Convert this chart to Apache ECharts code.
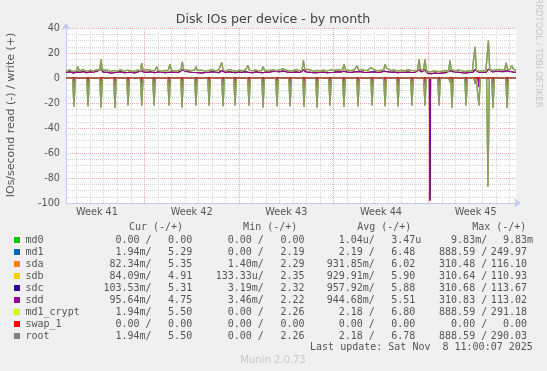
<!DOCTYPE html>
<html><head><meta charset="utf-8">
<script src="https://cdn.jsdelivr.net/npm/echarts@6/dist/echarts.min.js"></script>
<style>html,body{margin:0;padding:0;background:#f0f0f0}#c{width:547px;height:371px}</style>
</head><body><div id="c"></div>
<script>
// x values are days counted from Sunday Oct 5 2025 00:00
const xMin = 1.21, xMax = 34.48;
const weekLabels = ['Week 41','Week 42','Week 43','Week 44','Week 45'];
const weekLabelPos = [3.5, 10.5, 17.5, 24.5, 31.5];
const weekLines = [7, 14, 21, 28];
const dayLines = [2,3,4,5,6,8,9,10,11,12,13,15,16,17,18,19,20,22,23,24,25,26,27,29,30,31,32,33,34];

const names = ['md0','md1','sda','sdb','sdc','sdd','md1_crypt','swap_1','root'];
const colors = ['#00CC00','#0066B3','#FF8000','#FFCC00','#330099','#990099','#CCFF00','#FF0000','#808080'];

const curR = ['0.00 /','1.94m/','82.34m/','84.09m/','103.53m/','95.64m/','1.94m/','0.00 /','1.94m/'];
const curW = ['0.00','5.29','5.35','4.91','5.31','4.75','5.50','0.00','5.50'];
const minR = ['0.00 /','0.00 /','1.40m/','133.33u/','3.19m/','3.46m/','0.00 /','0.00 /','0.00 /'];
const minW = ['0.00','2.19','2.29','2.35','2.32','2.22','2.26','0.00','2.26'];
const avgR = ['1.04u/','2.19 /','931.85m/','929.91m/','957.92m/','944.68m/','2.18 /','0.00 /','2.18 /'];
const avgW = ['3.47u','6.48','6.02','5.90','5.88','5.51','6.80','0.00','6.78'];
const maxR = ['9.83m/','888.59 /','310.48 /','310.64 /','310.68 /','310.83 /','888.59 /','0.00 /','888.59 /'];
const maxW = ['9.83m','249.97','116.10','110.93','113.67','113.02','291.18','0.00','290.03'];

const zeroLine = [[1.21,0],[34.48,0]];

// write (+) of md1 / md1_crypt / root
const mdWrite = [[1.21,5.6],[1.5,6.4],[1.75,5.2],[2.0,6.0],[2.07,9],[2.2,5.8],[2.5,6.6],[2.62,8],[2.75,5.4],[3.0,6.2],[3.25,5.6],[3.5,6.8],[3.70,6.0],[3.80,15],[3.90,6.2],[4.0,5.8],[4.25,6.4],[4.5,5.2],[4.75,6.0],[5.0,5.6],[5.25,6.6],[5.5,5.4],[5.75,6.2],[6.0,5.8],[6.25,5.2],[6.5,6.4],[6.71,5.6],[6.81,12],[6.91,6.0],[7.0,5.8],[7.25,6.8],[7.5,6.0],[7.75,5.6],[7.92,9],[8.0,6.2],[8.25,5.4],[8.5,6.0],[8.75,5.8],[8.9,11],[9.0,6.2],[9.25,5.6],[9.5,6.0],[9.71,6.4],[9.81,13],[9.91,6.6],[10.0,7.0],[10.25,6.2],[10.5,5.8],[10.72,6.4],[10.82,9],[10.92,6.0],[11.0,5.6],[11.25,6.2],[11.5,5.4],[11.75,6.0],[12.0,6.6],[12.25,5.8],[12.5,6.2],[12.62,6.0],[12.72,12.5],[12.82,6.4],[13.0,5.6],[13.25,6.8],[13.5,6.0],[13.75,5.4],[14.0,6.2],[14.25,5.8],[14.5,6.6],[14.67,10],[14.77,6.2],[15.0,5.8],[15.25,6.4],[15.5,5.6],[15.68,6.0],[15.78,9],[15.88,6.2],[16.0,6.2],[16.25,6.0],[16.5,6.8],[16.75,5.8],[17.0,6.4],[17.25,7.4],[17.5,6.2],[17.75,5.6],[18.0,6.0],[18.25,6.6],[18.5,5.8],[18.66,6.4],[18.76,14],[18.86,7.0],[19.0,6.2],[19.25,6.6],[19.5,5.4],[19.75,6.0],[20.0,5.8],[20.25,6.2],[20.5,5.6],[20.75,6.4],[21.0,6.0],[21.25,6.6],[21.5,6.2],[21.67,6.8],[21.77,11],[21.87,6.6],[22.0,6.2],[22.25,5.8],[22.5,6.4],[22.63,6.2],[22.73,9.6],[22.85,6.0],[23.0,6.6],[23.25,6.2],[23.5,5.8],[23.75,8.5],[24.0,6.4],[24.25,5.8],[24.5,6.2],[24.70,6.4],[24.80,11],[24.9,8.0],[25.0,6.6],[25.25,6.0],[25.5,6.4],[25.75,5.6],[26.0,6.2],[26.25,5.8],[26.5,6.4],[26.75,6.0],[27.0,5.8],[27.21,6.2],[27.31,15],[27.41,7.0],[27.55,5.8],[27.65,6.4],[27.75,15],[27.85,6.0],[28.0,4.6],[28.25,5.2],[28.5,5.6],[28.75,5.0],[29.0,5.4],[29.25,6.0],[29.5,5.6],[29.6,14],[29.7,6.6],[30.0,5.8],[30.25,6.4],[30.5,5.6],[30.75,5.2],[31.0,5.8],[31.25,5.4],[31.35,6.0],[31.45,25],[31.55,6.2],[31.75,5.4],[32.0,5.8],[32.25,5.6],[32.34,6.0],[32.44,30],[32.54,6.6],[32.75,6.0],[33.0,6.4],[33.25,6.8],[33.5,6.2],[33.65,7.0],[33.75,12],[33.85,7.2],[34.0,6.4],[34.17,10],[34.3,6.8],[34.48,6.2]];

// write (+) of sda..sdd
const diskWrite = [[1.21,4.4],[1.5,5.0],[1.75,4.0],[2.0,4.8],[2.25,4.6],[2.5,5.2],[2.75,4.2],[3.0,5.0],[3.25,4.8],[3.5,5.4],[3.8,7.0],[4.0,4.6],[4.25,4.6],[4.5,4.0],[4.75,4.2],[5.0,4.6],[5.25,5.0],[5.5,4.2],[5.75,4.4],[6.0,4.8],[6.25,4.0],[6.5,4.8],[6.81,6.0],[7.0,4.6],[7.25,4.6],[7.5,5.0],[7.75,4.2],[8.0,4.8],[8.25,4.8],[8.5,4.2],[8.75,4.4],[9.0,4.8],[9.25,4.6],[9.5,4.4],[9.81,6.4],[10.0,5.6],[10.25,5.0],[10.5,4.6],[10.75,4.4],[11.0,4.2],[11.25,4.0],[11.5,4.4],[11.75,4.6],[12.0,5.0],[12.25,4.8],[12.5,4.2],[12.72,6.0],[13.0,4.4],[13.25,5.0],[13.5,4.6],[13.75,4.2],[14.0,4.8],[14.25,4.6],[14.5,5.0],[14.75,4.4],[15.0,4.2],[15.25,5.0],[15.5,4.4],[15.75,4.2],[16.0,4.8],[16.25,4.6],[16.5,5.4],[16.75,5.2],[17.0,5.0],[17.25,5.6],[17.5,5.0],[17.75,4.4],[18.0,4.6],[18.25,4.8],[18.5,4.4],[18.76,6.4],[19.0,4.8],[19.25,4.6],[19.5,4.2],[19.75,4.2],[20.0,4.6],[20.25,4.8],[20.5,4.2],[20.75,4.4],[21.0,4.6],[21.25,5.0],[21.5,4.8],[21.75,5.4],[22.0,4.8],[22.25,4.4],[22.5,4.8],[22.75,5.2],[23.0,5.0],[23.25,4.6],[23.5,4.4],[23.75,4.8],[24.0,5.0],[24.25,4.4],[24.5,4.8],[24.75,5.4],[25.0,5.0],[25.25,4.6],[25.5,4.8],[25.75,4.2],[26.0,4.6],[26.25,4.6],[26.5,4.8],[26.75,4.4],[27.0,4.6],[27.31,6.4],[27.5,5.0],[27.75,6.4],[28.0,3.6],[28.25,3.4],[28.5,4.0],[28.75,3.6],[29.0,4.0],[29.25,4.2],[29.6,6.0],[29.75,5.2],[30.0,4.8],[30.25,4.6],[30.5,4.2],[30.75,4.0],[31.0,4.4],[31.25,4.4],[31.45,6.6],[31.75,4.6],[32.0,4.4],[32.25,4.4],[32.44,7.0],[32.75,5.0],[33.0,5.2],[33.25,5.4],[33.5,5.0],[33.75,5.8],[34.0,5.4],[34.25,4.8],[34.48,4.6]];

// read (-) of md1 / md1_crypt / root
const mdRead = [[1.21,0],[1.70,0],[1.80,-23],[1.90,0],[2.74,0],[2.84,-22.5],[2.94,0],[3.70,0],[3.80,-23.5],[3.90,0],[4.73,0],[4.83,-24],[4.93,0],[5.70,0],[5.80,-22],[5.90,0],[6.71,0],[6.81,-22],[6.91,0],[7.62,0],[7.72,-22],[7.82,0],[8.73,0],[8.83,-22],[8.93,0],[9.69,0],[9.79,-23.5],[9.89,0],[10.72,0],[10.82,-22],[10.92,0],[11.69,0],[11.79,-22],[11.89,0],[12.72,0],[12.82,-22.5],[12.92,0],[13.61,0],[13.71,-22],[13.81,0],[14.64,0],[14.74,-22],[14.84,0],[15.68,0],[15.78,-23.5],[15.88,0],[16.71,0],[16.81,-22.5],[16.91,0],[17.68,0],[17.78,-22.5],[17.88,0],[18.71,0],[18.81,-23],[18.91,0],[19.67,0],[19.77,-23.5],[19.87,0],[20.63,0],[20.73,-22],[20.83,0],[21.66,0],[21.76,-23],[21.86,0],[22.70,0],[22.80,-22.5],[22.90,0],[23.74,0],[23.84,-22],[23.94,0],[24.70,0],[24.80,-22.5],[24.90,0],[25.66,0],[25.76,-22.5],[25.86,0],[26.69,0],[26.79,-22],[26.89,0],[27.65,0],[27.75,-22],[27.85,0],[28.69,0],[28.79,-22],[28.89,0],[29.52,0],[29.60,-3.5],[29.66,0],[29.75,-24],[29.85,0],[30.69,0],[30.79,-22],[30.89,0],[31.37,0],[31.45,-4.8],[31.53,0],[31.64,0],[31.74,-22],[31.84,0],[32.31,0],[32.41,-87],[32.51,0],[32.68,0],[32.78,-24],[32.88,0],[33.72,0],[33.82,-24],[33.92,0],[34.48,0]];

// read (-) of sda..sdd
const diskRead = [[1.21,0],[1.74,0],[1.80,-8],[1.86,0],[2.78,0],[2.84,-7],[2.90,0],[3.74,0],[3.80,-8],[3.86,0],[4.77,0],[4.83,-8],[4.89,0],[5.74,0],[5.80,-7],[5.86,0],[6.75,0],[6.81,-7],[6.87,0],[7.66,0],[7.72,-7],[7.78,0],[8.77,0],[8.83,-7],[8.89,0],[9.73,0],[9.79,-8],[9.85,0],[10.76,0],[10.82,-7],[10.88,0],[11.73,0],[11.79,-7],[11.85,0],[12.76,0],[12.82,-7],[12.88,0],[13.65,0],[13.71,-7],[13.77,0],[14.68,0],[14.74,-7],[14.80,0],[15.72,0],[15.78,-8],[15.84,0],[16.75,0],[16.81,-7],[16.87,0],[17.72,0],[17.78,-7],[17.84,0],[18.75,0],[18.81,-8],[18.87,0],[19.71,0],[19.77,-8],[19.83,0],[20.67,0],[20.73,-7],[20.79,0],[21.70,0],[21.76,-8],[21.82,0],[22.74,0],[22.80,-7],[22.86,0],[23.78,0],[23.84,-7],[23.90,0],[24.74,0],[24.80,-7],[24.86,0],[25.70,0],[25.76,-7],[25.82,0],[26.73,0],[26.79,-7],[26.85,0],[27.69,0],[27.75,-7],[27.81,0],[28.08,0],[28.12,-98],[28.16,0],[28.73,0],[28.79,-7],[28.85,0],[29.54,0],[29.60,-3],[29.69,0],[29.75,-8],[29.81,0],[30.73,0],[30.79,-7],[30.85,0],[31.39,0],[31.45,-4],[31.51,0],[31.68,0],[31.74,-7],[31.80,0],[32.72,0],[32.78,-8],[32.84,0],[33.76,0],[33.82,-8],[33.88,0],[34.48,0]];

const writeData = [zeroLine, mdWrite, diskWrite, diskWrite, diskWrite, diskWrite, mdWrite, zeroLine, mdWrite];
const readData  = [zeroLine, mdRead, diskRead, diskRead, diskRead, diskRead, mdRead, zeroLine, mdRead];

const chart = echarts.init(document.getElementById('c'), null, {renderer:'canvas'});

const gridLineSeries = {
  type:'line', data:[[2,0]], silent:true, z:1, showSymbol:false, lineStyle:{opacity:0},
  markLine:{
    silent:true, symbol:['none','none'], label:{show:false}, animation:false,
    data: [
      ...dayLines.map(d => ({xAxis:d, lineStyle:{color:'#d4d4d4', type:[1,1], width:1}})),
      ...weekLines.map(d => ({xAxis:d, lineStyle:{color:'#eaa8a8', type:[1,1], width:1}}))
    ]
  }
};
const zeroSeries = {
  type:'line', data:[[2,0]], silent:true, z:30, showSymbol:false, lineStyle:{opacity:0},
  markLine:{silent:true, symbol:['none','none'], label:{show:false}, animation:false,
    data:[{yAxis:0, lineStyle:{color:'#000', type:'solid', width:1.6}}]}
};

// line widths / opacity to mimic rrdtool's overlapping anti-aliased lines
const widths = [1, 1.2, 1.2, 1.2, 1.2, 1.2, 1.3, 1, 1.3];
const opac   = [1, 1, 1, 1, 1, 1, 1, 1, 0.8];

const series = [gridLineSeries];
names.forEach((n, i) => {
  series.push({type:'line', name:n+'_w', data:writeData[i], showSymbol:false, silent:true, z:2+i,
    lineStyle:{color:colors[i], width:widths[i], opacity:opac[i]}, itemStyle:{color:colors[i]}});
  series.push({type:'line', name:n+'_r', data:readData[i], showSymbol:false, silent:true, z:2+i,
    lineStyle:{color:colors[i], width:widths[i], opacity:opac[i]}, itemStyle:{color:colors[i]}});
});
series.push(zeroSeries);

const mono = '"DejaVu Sans Mono", monospace';
const txtColor = '#555';
const graphics = [];
function t(x, y, s, align, extra) {
  graphics.push({type:'text', x:x, y:y, silent:true, style:Object.assign({text:s, fill:txtColor, font:'10px '+mono, textAlign:align, textVerticalAlign:'middle'}, extra||{})});
}
const unitPad = s => (/[a-zµ]$/.test(s) ? s : s + ' ');
t(156, 227.5, 'Cur (-/+)', 'center');
t(270.2, 227.5, 'Min (-/+)', 'center');
t(384.3, 227.5, 'Avg (-/+)', 'center');
t(499.3, 227.5, 'Max (-/+)', 'center');
names.forEach((n, i) => {
  const y = 240 + 12*i;
  graphics.push({type:'rect', silent:true, shape:{x:14, y:y-3, width:6, height:6}, style:{fill:colors[i]}});
  t(25.5, y, n, 'left');
  t(151.6, y, curR[i], 'right');
  t(198.2, y, unitPad(curW[i]), 'right');
  t(263.8, y, minR[i], 'right');
  t(310.5, y, unitPad(minW[i]), 'right');
  t(374.8, y, avgR[i], 'right');
  t(421.3, y, unitPad(avgW[i]), 'right');
  t(487.2, y, maxR[i], 'right');
  t(533, y, unitPad(maxW[i]), 'right');
});
t(532.8, 347.3, 'Last update: Sat Nov  8 11:00:07 2025', 'right');
graphics.push({type:'text', x:273, y:360.3, silent:true, style:{text:'Munin 2.0.73', fill:'#c8c8c8', font:'10px "DejaVu Sans", sans-serif', textAlign:'center', textVerticalAlign:'middle'}});
graphics.push({type:'text', x:273, y:19.5, silent:true, style:{text:'Disk IOs per device - by month', fill:'#444', font:'12.6px "DejaVu Sans", sans-serif', textAlign:'center', textVerticalAlign:'middle'}});
graphics.push({type:'text', x:11.5, y:115, rotation:Math.PI/2, silent:true, style:{text:'IOs/second read (-) / write (+)', fill:txtColor, font:'11px "DejaVu Sans", sans-serif', textAlign:'center', textVerticalAlign:'middle'}});
graphics.push({type:'text', x:538.5, y:53, rotation:-Math.PI/2, silent:true, style:{text:'RRDTOOL / TOBI OETIKER', fill:'#c8c8c8', font:'8.5px "DejaVu Sans", sans-serif', textAlign:'center', textVerticalAlign:'middle'}});

chart.setOption({
  animation:false,
  backgroundColor:'#f0f0f0',
  grid:{left:66, top:28, width:450, height:175, show:true, backgroundColor:'#fff', borderWidth:0},
  xAxis:{type:'value', min:xMin, max:xMax,
    axisLine:{show:true, onZero:false, lineStyle:{color:'#c4caf0', width:1}, symbol:['none','arrow'], symbolSize:[7,7], symbolOffset:[0,5]},
    axisTick:{show:false},
    splitLine:{show:false},
    axisLabel:{customValues:weekLabelPos, formatter:(v)=>weekLabels[weekLabelPos.indexOf(v)] || '', color:txtColor, fontSize:9.7, fontFamily:'"DejaVu Sans", sans-serif', margin:4}
  },
  yAxis:{type:'value', min:-100, max:40, interval:20,
    axisLine:{show:true, onZero:false, lineStyle:{color:'#c4caf0', width:1}, symbol:['none','arrow'], symbolSize:[7,7], symbolOffset:[0,5]},
    axisTick:{show:false},
    axisLabel:{color:txtColor, fontSize:9.7, fontFamily:'"DejaVu Sans", sans-serif', margin:6},
    splitLine:{show:true, lineStyle:{color:'#eaa8a8', type:[1,1], width:1}},
    minorTick:{show:false, splitNumber:4},
    minorSplitLine:{show:true, lineStyle:{color:'#d4d4d4', type:[1,1], width:1}}
  },
  series: series,
  graphic: graphics
});
</script></body></html>
